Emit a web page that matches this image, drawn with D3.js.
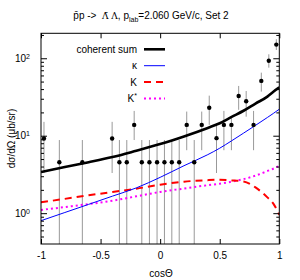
<!DOCTYPE html>
<html>
<head>
<meta charset="utf-8">
<script src="https://cdn.jsdelivr.net/npm/d3@7"></script>
<style>
  body { margin: 0; background: #fff; }
  svg text { font-family: "Liberation Sans", Arial, sans-serif; fill: #000; }
</style>
</head>
<body>
<div id="svgContainer"></div>
<script>
// data points: cos(theta), value, lower and upper end of the error bar
var dataCos = [-0.975, -0.846, -0.653, -0.403, -0.342, -0.28, -0.218, -0.154, -0.09, -0.026,
               0.036, 0.098, 0.16, 0.223, 0.286, 0.349, 0.412, 0.473, 0.535, 0.598,
               0.659, 0.722, 0.784, 0.849, 0.912, 0.975];
var dataVal = [9.2, 4.55, 4.55, 9.2, 4.55, 4.55, 13.8, 4.55, 4.55, 4.55,
               4.55, 4.55, 4.55, 13.8, 4.55, 13.8, 23.0, 9.3, 13.8, 13.8,
               32.6, 27.9, 13.8, 51, 93, 150];
var dataLo  = [3.3, 0.3, 0.3, 3.3, 0.3, 0.3, 8.8, 0.3, 0.3, 0.3,
               0.3, 0.3, 0.3, 6.5, 0.3, 6.5, 13.8, 3.3, 6.5, 6.5,
               21.6, 17.6, 6.5, 37.1, 75.6, 128];
var dataHi  = [15.1, 8.8, 8.8, 15.1, 8.8, 8.8, 20.9, 8.8, 8.8, 8.8,
               8.8, 8.8, 8.8, 20.5, 8.8, 20.5, 32.9, 14.2, 20.9, 17.5,
               43.9, 37.8, 20.9, 65.2, 112.6, 176];

// model curves
var cosGrid     = [-1, -0.8, -0.6, -0.4, -0.2, 0, 0.2, 0.4, 0.5, 0.6, 0.7, 0.8, 0.9, 0.95, 1];
var coherentSum = [3.4, 3.95, 4.55, 5.3, 6.4, 7.8, 9.8, 12.6, 14.5, 17.5, 21, 26, 32, 37, 42];
var kappa       = [0.8, 1.02, 1.3, 1.66, 2.12, 2.9, 4.1, 5.7, 6.9, 8.6, 10.8, 13.6, 17.2, 19.4, 22];
var kaon        = [1.38, 1.53, 1.7, 1.88, 2.07, 2.33, 2.55, 2.67, 2.7, 2.65, 2.57, 2.15, 1.6, 1.33, 0.95];
var kaonStar    = [1.1, 1.2, 1.31, 1.45, 1.65, 1.88, 2.08, 2.3, 2.4, 2.55, 2.75, 3.05, 3.5, 3.75, 4.1];

var xTicks = [-1, -0.5, 0, 0.5, 1];
var yTicks = [1, 10, 100];
var yMinor = [0.5, 0.6, 0.7, 0.8, 0.9, 2, 3, 4, 5, 6, 7, 8, 9, 20, 30, 40, 50, 60, 70, 80, 90, 200];

var margin = {top: 33.3, right: 20.7, bottom: 36, left: 41},
    width = 300 - margin.left - margin.right,
    height = 280 - margin.top - margin.bottom;

var svg = d3.select("#svgContainer")
    .append("svg")
    .attr("width", 300)
    .attr("height", 280);

var g = svg.append("g")
    .attr("transform", "translate(" + margin.left + "," + margin.top + ")");

var x = d3.scaleLinear().domain([-1, 1]).range([0, width]);
var y = d3.scaleLog().domain([0.4, 210]).range([height, 0]);

g.append("clipPath").attr("id", "plotClip")
    .append("rect").attr("width", width).attr("height", height);

var plot = g.append("g").attr("clip-path", "url(#plotClip)");

// error bars
var pts = dataCos.map(function(c, i) {
    return {c: c, v: dataVal[i], lo: dataLo[i], hi: dataHi[i]};
});
plot.selectAll(".ebar").data(pts).enter().append("line")
    .attr("x1", function(d) { return x(d.c); })
    .attr("x2", function(d) { return x(d.c); })
    .attr("y1", function(d) { return y(d.lo); })
    .attr("y2", function(d) { return y(d.hi); })
    .style("stroke", "#999")
    .style("stroke-width", 1);

// curves
var line = d3.line()
    .x(function(d) { return x(d[0]); })
    .y(function(d) { return y(d[1]); })
    .curve(d3.curveMonotoneX);

var curves = [
    {name: "coherent sum", vals: coherentSum, color: "#000", w: 2.6, dash: null},
    {name: "κ", vals: kappa, color: "#0000ff", w: 1, dash: null},
    {name: "K", vals: kaon, color: "#ff0000", w: 2, dash: "7,5"},
    {name: "K*", vals: kaonStar, color: "#ff00ff", w: 2, dash: "2,3"}
];

// draw order: lighter ones first, sum on top
[3, 2, 1, 0].forEach(function(k) {
    var c = curves[k];
    plot.append("path")
        .datum(cosGrid.map(function(cv, i) { return [cv, c.vals[i]]; }))
        .attr("d", line)
        .style("fill", "none")
        .style("stroke", c.color)
        .style("stroke-width", c.w)
        .style("stroke-dasharray", c.dash);
});

// points
plot.selectAll(".pt").data(pts).enter().append("circle")
    .attr("cx", function(d) { return x(d.c); })
    .attr("cy", function(d) { return y(d.v); })
    .attr("r", 2.2)
    .style("fill", "#000");

// axes, ticks pointing inward
function styleAxis(sel) {
    sel.select(".domain").remove();
    sel.selectAll(".tick line").style("stroke", "#000").style("stroke-width", 1);
    sel.selectAll(".tick text").style("font-size", "10px")
        .style("font-family", "'Liberation Sans', Arial, sans-serif");
}

g.append("g")
    .attr("transform", "translate(0," + height + ")")
    .call(d3.axisBottom(x).tickValues(xTicks).tickSizeInner(-5).tickPadding(8)
        .tickFormat(function(d) { return d3.format("")(d).replace("−", "-"); }))
    .call(styleAxis);

g.append("g")
    .call(d3.axisTop(x).tickValues(xTicks).tickSizeInner(-5).tickFormat(""))
    .call(styleAxis);

var yAxis = g.append("g")
    .call(d3.axisLeft(y).tickValues(yTicks).tickSizeInner(-6).tickPadding(11).tickFormat(function() { return ""; }))
    .call(styleAxis);
yAxis.selectAll(".tick text")
    .each(function(d) {
        var t = d3.select(this);
        t.text("10");
        t.append("tspan")
            .attr("dy", "-0.45em")
            .style("font-size", "7px")
            .text(Math.round(Math.log10(d)));
    });

g.append("g")
    .call(d3.axisLeft(y).tickValues(yMinor.filter(function(v) { return v >= 0.4 && v <= 210; }))
        .tickSizeInner(-3).tickFormat(""))
    .call(styleAxis);

g.append("g")
    .attr("transform", "translate(" + width + ",0)")
    .call(d3.axisRight(y).tickValues(yTicks).tickSizeInner(-6).tickFormat(""))
    .call(styleAxis);

g.append("g")
    .attr("transform", "translate(" + width + ",0)")
    .call(d3.axisRight(y).tickValues(yMinor.filter(function(v) { return v >= 0.4 && v <= 210; }))
        .tickSizeInner(-3).tickFormat(""))
    .call(styleAxis);

// frame
g.append("rect")
    .attr("width", width)
    .attr("height", height)
    .style("fill", "none")
    .style("stroke", "#000")
    .style("stroke-width", 1);

// legend
var legend = g.append("g");
curves.forEach(function(c, i) {
    var ly = 16 + i * 16.4;
    var t = legend.append("text")
        .attr("x", 96)
        .attr("y", ly)
        .attr("dy", "0.35em")
        .attr("text-anchor", "end")
        .style("font-size", "10px");
    if (c.name === "K*") {
        t.text("K");
        t.append("tspan").attr("dy", "-0.5em").style("font-size", "7px").text("*");
    } else {
        t.text(c.name);
    }
    legend.append("line")
        .attr("x1", 103).attr("x2", 124)
        .attr("y1", ly).attr("y2", ly)
        .style("stroke", c.color)
        .style("stroke-width", c.w)
        .style("stroke-dasharray", c.dash);
});

// title
var title = svg.append("text")
    .attr("x", 151)
    .attr("y", 19)
    .attr("text-anchor", "middle")
    .style("font-size", "10px")
    .style("white-space", "pre");
title.append("tspan").text("p\u0304p ->  ");
title.append("tspan").style("font-family", "'DejaVu Serif', serif").style("font-size", "9px")
    .text("\u039B\u0304 \u039B");
title.append("tspan").text(", p");
title.append("tspan").attr("dy", 2.5).style("font-size", "7px").text("lab");
title.append("tspan").attr("dy", -2.5).text("=2.060 GeV/c, Set 2");

// axis labels
svg.append("text")
    .attr("x", 161)
    .attr("y", 276.5)
    .attr("text-anchor", "middle")
    .style("font-size", "10px")
    .text("cosΘ");

svg.append("text")
    .attr("transform", "translate(15,138.5) rotate(-90)")
    .attr("text-anchor", "middle")
    .style("font-size", "10px")
    .text("dσ/dΩ (μb/sr)");
</script>
</body>
</html>
